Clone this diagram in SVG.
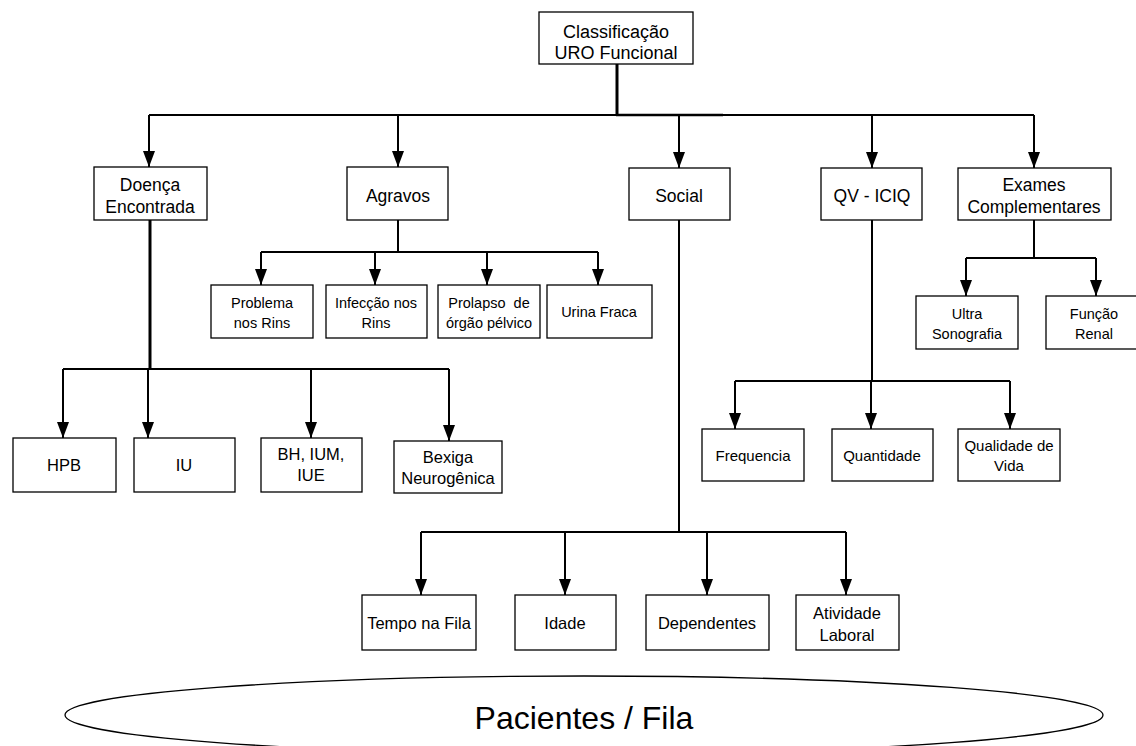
<svg xmlns="http://www.w3.org/2000/svg" width="1136" height="746" viewBox="0 0 1136 746">
<style>
rect{fill:#fff;stroke:#000;stroke-width:1.3}
text{font-family:"Liberation Sans",Arial,sans-serif;fill:#000;text-anchor:middle}
.l0{font-size:18px}
.l1{font-size:17.5px}
.a{font-size:14.5px}
.d{font-size:16.5px}
.q{font-size:15px}
.s{font-size:16.5px}
.c{fill:none;stroke:#000;stroke-width:2}
.t{fill:none;stroke:#000;stroke-width:3}
.ar{marker-end:url(#ah)}
</style>
<defs>
<marker id="ah" viewBox="0 0 16 12" refX="16" refY="6" markerWidth="16" markerHeight="12" markerUnits="userSpaceOnUse" orient="auto">
<path d="M0,0 L16,6 L0,12 z" fill="#000"/>
</marker>
</defs>
<rect width="1136" height="746" style="fill:#fff;stroke:none"/>
<g id="connectors">
<path class="t" d="M617,64 V115"/>
<path class="c" d="M149,115 H1034"/>
<path class="t" d="M616,115 H723" style="stroke-width:2.6"/>
<path class="c ar" d="M149,115 V167"/>
<path class="c ar" d="M398,115 V167"/>
<path class="c ar" d="M679,115 V168"/>
<path class="c ar" d="M872,115 V168"/>
<path class="c ar" d="M1034,115 V168"/>
<path class="c" d="M398,220 V252 M261,252 H598"/>
<path class="c ar" d="M261,252 V285"/>
<path class="c ar" d="M375,252 V285"/>
<path class="c ar" d="M487,252 V285"/>
<path class="c ar" d="M598,252 V285"/>
<path class="c" d="M1034,220 V258 M966,258 H1096"/>
<path class="c ar" d="M966,258 V296"/>
<path class="c ar" d="M1096,258 V296"/>
<path class="t" d="M150,220 V369"/>
<path class="c" d="M63,369 H449"/>
<path class="c ar" d="M63,369 V438"/>
<path class="c ar" d="M148,369 V438"/>
<path class="c ar" d="M311,369 V438"/>
<path class="c ar" d="M449,369 V441"/>
<path class="c" d="M872,220 V381 M735,381 H1010"/>
<path class="c ar" d="M735,381 V429"/>
<path class="c ar" d="M871,381 V429"/>
<path class="c ar" d="M1010,381 V429"/>
<path class="c" d="M679,220 V532 M421,532 H846"/>
<path class="c ar" d="M421,532 V595"/>
<path class="c ar" d="M565,532 V595"/>
<path class="c ar" d="M707,532 V595"/>
<path class="c ar" d="M846,532 V595"/>
</g>
<g id="root"><rect x="539" y="12" width="154" height="52"/><text class="l0" x="616" y="38">Classificação</text><text class="l0" x="616" y="59">URO Funcional</text></g>
<g id="doenca"><rect x="94" y="167" width="113" height="53"/><text class="l1" x="150" y="191">Doença</text><text class="l1" x="150" y="213">Encontrada</text></g>
<g id="agravos"><rect x="347" y="167" width="101" height="53"/><text class="l1" x="398" y="202">Agravos</text></g>
<g id="social"><rect x="629" y="168" width="101" height="52"/><text class="l1" x="679" y="202">Social</text></g>
<g id="qv"><rect x="821" y="168" width="101" height="52"/><text class="l1" x="872" y="202">QV - ICIQ</text></g>
<g id="exames"><rect x="958" y="168" width="153" height="52"/><text class="l1" x="1034" y="191">Exames</text><text class="l1" x="1034" y="213">Complementares</text></g>
<g id="problema"><rect x="211" y="285" width="102" height="53"/><text class="a" x="262" y="308">Problema</text><text class="a" x="262" y="328">nos Rins</text></g>
<g id="infeccao"><rect x="326" y="285" width="101" height="53"/><text class="a" x="376" y="308">Infecção nos</text><text class="a" x="376" y="328">Rins</text></g>
<g id="prolapso"><rect x="438" y="285" width="102" height="53"/><text class="a" x="489" y="308">Prolapso&#160; de</text><text class="a" x="489" y="328">órgão pélvico</text></g>
<g id="urina"><rect x="547" y="285" width="105" height="53"/><text class="a" x="599" y="317">Urina Fraca</text></g>
<g id="ultra"><rect x="916" y="296" width="102" height="53"/><text class="a" x="967" y="319">Ultra</text><text class="a" x="967" y="339">Sonografia</text></g>
<g id="funcao"><rect x="1046" y="296" width="92" height="53"/><text class="a" x="1094" y="319">Função</text><text class="a" x="1094" y="339">Renal</text></g>
<g id="hpb"><rect x="13" y="438" width="103" height="54"/><text class="d" x="64" y="471">HPB</text></g>
<g id="iu"><rect x="134" y="438" width="101" height="54"/><text class="d" x="184" y="471">IU</text></g>
<g id="bh"><rect x="261" y="438" width="101" height="54"/><text class="d" x="311" y="460">BH, IUM,</text><text class="d" x="311" y="481">IUE</text></g>
<g id="bexiga"><rect x="394" y="441" width="108" height="52"/><text class="d" x="448" y="463">Bexiga</text><text class="d" x="448" y="484">Neurogênica</text></g>
<g id="frequencia"><rect x="702" y="429" width="102" height="52"/><text class="q" x="753" y="461">Frequencia</text></g>
<g id="quantidade"><rect x="832" y="429" width="101" height="52"/><text class="q" x="882" y="461">Quantidade</text></g>
<g id="qualidade"><rect x="958" y="429" width="102" height="52"/><text class="q" x="1009" y="451">Qualidade de</text><text class="q" x="1009" y="471">Vida</text></g>
<g id="tempo"><rect x="362" y="595" width="114" height="55"/><text class="s" x="419" y="629">Tempo na Fila</text></g>
<g id="idade"><rect x="515" y="595" width="101" height="55"/><text class="s" x="565" y="629">Idade</text></g>
<g id="dependentes"><rect x="646" y="595" width="123" height="55"/><text class="s" x="707" y="629">Dependentes</text></g>
<g id="atividade"><rect x="796" y="595" width="103" height="55"/><text class="s" x="847" y="619">Atividade</text><text class="s" x="847" y="641">Laboral</text></g>
<g id="pacientes"><ellipse cx="584" cy="715" rx="519" ry="39" style="fill:#fff;stroke:#000;stroke-width:1.3"/><text x="584" y="729" style="font-size:32px">Pacientes / Fila</text></g>
</svg>
